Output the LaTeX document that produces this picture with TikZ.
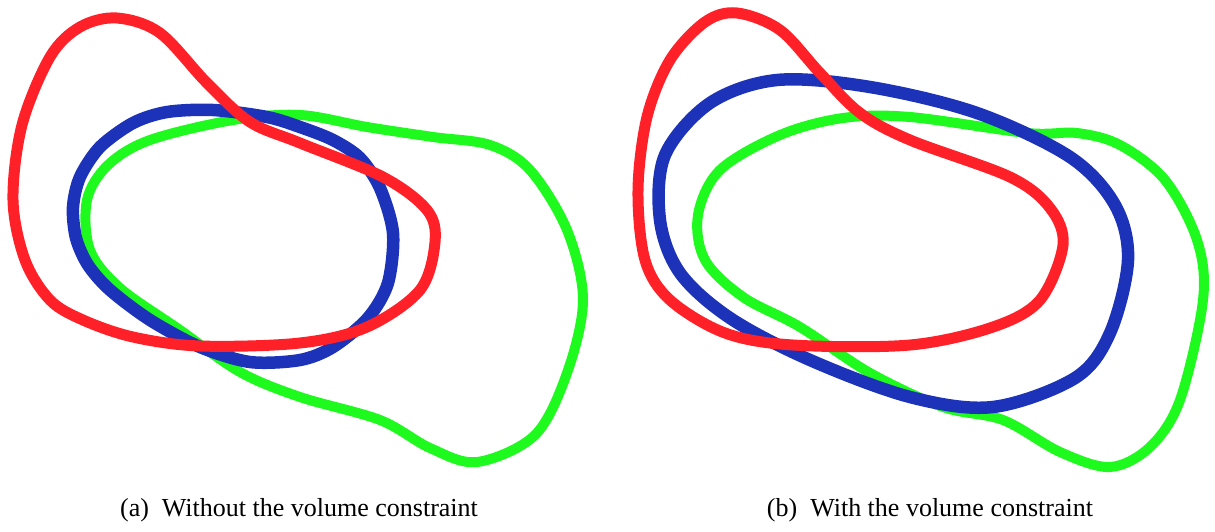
\documentclass[tikz,border=0pt]{standalone}
\usepackage{fontspec}
\setmainfont{Liberation Serif}
\usepackage{tikz}
\definecolor{curvered}{RGB}{255,32,40}
\definecolor{curveblue}{RGB}{28,50,184}
\definecolor{curvegreen}{RGB}{30,250,30}
\tikzset{
    contour/.style={line join=round, smooth cycle, tension=0.55}, % 闭合曲线
    red curve/.style={draw=curvered, line width=11pt},
    blue curve/.style={draw=curveblue, line width=12.5pt},
    green curve/.style={draw=curvegreen, line width=10pt},
    caption/.style={font=\fontsize{26}{30}\selectfont, anchor=base}
}
\begin{document}
\begin{tikzpicture}[x=1pt, y=-1pt]
    \useasboundingbox (0,0) rectangle (1215,531);

    % (a) 左图
    \draw[green curve] plot[contour] coordinates {
        (233,120) (300,115) (367,127) (433,137) (490,145) (530,170) (567,230)
        (583,300) (567,373) (535,435) (477,462) (430,448) (380,420) (300,397)
        (240,372) (180,330) (120,288) (90,250) (87,200) (108,165) (150,140)};
    \draw[blue curve] plot[contour, tension=0.5] coordinates {
        (213,110) (267,117) (300,127) (333,140) (360,158) (380,188) (393,233)
        (388,283) (368,318) (333,347) (300,360) (250,362) (200,347) (150,320)
        (110,290) (88,265) (76,238) (73,207) (80,177) (100,147) (133,123)
        (167,112)};
    \draw[red curve] plot[contour] coordinates {
        (117,18) (160,33) (207,83) (250,122) (300,143) (383,177) (427,210)
        (435,242) (420,290) (367,327) (300,343) (200,346) (133,337) (83,320)
        (50,300) (25,260) (13,200) (22,125) (50,57) (80,27)};

    % (b) 右图
    \draw[green curve] plot[contour] coordinates {
        (843,118) (910,117) (1027,133) (1077,133) (1120,145) (1165,180)
        (1197,240) (1203,300) (1180,400) (1150,447) (1110,467) (1060,452)
        (1003,420) (943,407) (870,373) (800,327) (743,297) (705,260) (698,215)
        (720,170) (780,135)};
    \draw[blue curve] plot[contour] coordinates {
        (777,80) (870,87) (977,113) (1070,157) (1115,205) (1128,260) (1110,333)
        (1075,378) (993,407) (910,397) (810,360) (730,318) (680,273) (660,220)
        (665,155) (710,103)};
    \draw[red curve] plot[contour] coordinates {
        (737,13) (780,30) (820,73) (860,113) (910,140) (1010,177) (1050,208)
        (1063,245) (1040,300) (993,327) (910,345) (793,345) (725,333) (670,300)
        (645,260) (638,190) (647,117) (670,60) (705,22)};

    % 子图标题
    \foreach \x / \tag / \labelText in {
        299/a/{(a)\enspace Without the volume constraint},
        930/b/{(b)\enspace With the volume constraint}
    } {
        \node[caption] (cap\tag) at (\x, 516) {\labelText};
    }
\end{tikzpicture}
\end{document}
